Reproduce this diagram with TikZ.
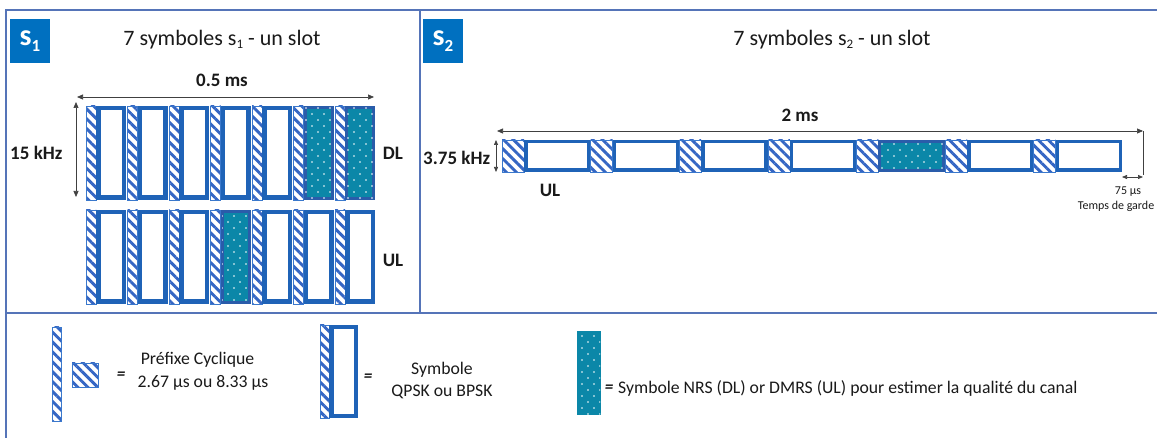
\documentclass[tikz,border=0pt]{standalone}
\usepackage{fontspec}
\setmainfont{Carlito}
\usetikzlibrary{patterns.meta,arrows.meta}
\definecolor{frameline}{HTML}{5574B8}
\definecolor{sbox}{HTML}{0070C0}
\definecolor{symblue}{HTML}{1F63B7}
\definecolor{hatchblue}{HTML}{3566C4}
\definecolor{hatchedge}{HTML}{3A78CC}
\definecolor{teal1}{HTML}{0B87A8}
\definecolor{nrsedge}{HTML}{2A5CAA}
\definecolor{txt}{HTML}{1A1A1A}
\tikzset{
  panel/.style={draw=frameline, line width=1.3pt},
  cp/.style={draw=hatchedge, line width=0.6pt, preaction={fill=white},
    pattern={Lines[angle=-45,distance=7pt,line width=2.9pt]}, pattern color=hatchblue,
    inner sep=0pt, outer sep=0pt},
  sym/.style={draw=symblue, line width=4.5pt, fill=white, inner sep=0pt, outer sep=0pt},
  symtwo/.style={draw=symblue, line width=3.5pt, fill=white, inner sep=0pt, outer sep=0pt},
  nrs/.style={draw=nrsedge, line width=3pt, fill=teal1,
    postaction={pattern={Dots[distance=12pt,radius=0.8pt]}, pattern color=white},
    postaction={pattern={Dots[distance=12pt,radius=0.8pt,xshift=6pt,yshift=6pt]}, pattern color=white},
    inner sep=0pt, outer sep=0pt},
  nrsleg/.style={draw=teal1, line width=0.5pt, fill=teal1,
    postaction={pattern={Dots[distance=12pt,radius=0.8pt]}, pattern color=white},
    postaction={pattern={Dots[distance=12pt,radius=0.8pt,xshift=6pt,yshift=6pt]}, pattern color=white},
    inner sep=0pt, outer sep=0pt},
  dim/.style={{Triangle[length=6pt,width=5pt]}-{Triangle[length=6pt,width=5pt]}, draw=black!75, line width=0.7pt},
  sbx/.style={fill=sbox, minimum width=40pt, minimum height=44pt, inner sep=0pt, text=white},
  ttl/.style={font=\fontsize{22}{25}\selectfont, text=txt, inner sep=0pt},
  bl/.style={font=\fontsize{19}{22}\selectfont\bfseries, text=txt, inner sep=0pt},
  lg/.style={font=\fontsize{17.7}{20}\selectfont, text=txt, inner sep=0pt},
  eq/.style={font=\fontsize{17}{17}\selectfont\bfseries\itshape, text=txt, inner sep=0pt},
  sm/.style={font=\fontsize{12}{14}\selectfont, text=txt, inner sep=0pt},
}
\begin{document}
\begin{tikzpicture}[x=1pt,y=-1pt]
\useasboundingbox (0,0) rectangle (1157,438);
\clip (0,0) rectangle (1157,438);
\fill[white] (0,0) rectangle (1157,438);
% panels
\draw[panel] (6,445) -- (6,10) -- (1165,10);
\draw[panel] (420,10) -- (420,313);
\draw[panel] (6,313) -- (1165,313);
% S1 panel
\node[sbx] (s1box) at (30,41) {\fontsize{30}{30}\selectfont\bfseries s\raisebox{-6pt}{\fontsize{17}{17}\selectfont 1}};
\node[ttl] (t1) at (222,40) {7 symboles s\raisebox{-3pt}{\fontsize{13}{13}\selectfont 1} - un slot};
\node[bl] (d1) at (222,80) {0.5 ms};
\node[bl, anchor=west] (k1) at (10,153) {15 kHz};
\node[bl] (dl) at (393,153) {DL};
\node[bl] (ul1) at (393,260) {UL};
\foreach \i in {0,...,6}{
  \pgfmathsetmacro{\xx}{86+41.5*\i}
  \node[cp,minimum width=10pt,minimum height=94pt] (dlcp\i) at (\xx+5,153) {};
  \node[cp,minimum width=10pt,minimum height=94pt] (ulcp\i) at (\xx+5,257) {};
  \ifnum\i>4
    \node[nrs,minimum width=27pt,minimum height=91pt] (dlsym\i) at (\xx+25,153) {};
  \else
    \node[sym,minimum width=25.5pt,minimum height=89.5pt] (dlsym\i) at (\xx+25,153) {};
  \fi
  \ifnum\i=3
    \node[nrs,minimum width=27pt,minimum height=91pt] (ulsym\i) at (\xx+25,257) {};
  \else
    \node[sym,minimum width=25.5pt,minimum height=89.5pt] (ulsym\i) at (\xx+25,257) {};
  \fi
}
\coordinate (h1l) at (77,97);
\coordinate (h1r) at (374,97);
\draw[dim] (h1l) -- (h1r);
\coordinate (v1t) at (76,102);
\coordinate (v1b) at (76,197);
\draw[dim] (v1t) -- (v1b);
% S2 panel
\node[sbx] (s2box) at (443,41) {\fontsize{30}{30}\selectfont\bfseries s\raisebox{-6pt}{\fontsize{17}{17}\selectfont 2}};
\node[ttl] (t2) at (832,40) {7 symboles s\raisebox{-3pt}{\fontsize{13}{13}\selectfont 2} - un slot};
\node[bl] (d2) at (800,115) {2 ms};
\node[bl, anchor=west] (k2) at (423,158) {3.75 kHz};
\node[bl] (ul2) at (550,190) {UL};
\foreach \i in {0,...,6}{
  \pgfmathsetmacro{\xx}{502+88.6*\i}
  \node[cp,minimum width=22pt,minimum height=32pt] (scp\i) at (\xx+11,156) {};
  \ifnum\i=4
    \node[nrs,minimum width=63.6pt,minimum height=29pt] (ssym\i) at (\xx+55.3,156) {};
  \else
    \node[symtwo,minimum width=63.1pt,minimum height=28.5pt] (ssym\i) at (\xx+55.3,156) {};
  \fi
}
\coordinate (h2l) at (497,131);
\coordinate (h2r) at (1143,131);
\draw[dim] (h2l) -- (h2r);
\coordinate (g1) at (1143,131);
\coordinate (g2) at (1143,175);
\draw[draw=black!75, line width=0.8pt] (g1) -- (g2);
\coordinate (ga) at (1122,177);
\coordinate (gb) at (1143,177);
\draw[dim, {Triangle[length=5pt,width=4pt]}-{Triangle[length=5pt,width=4pt]}] (ga) -- (gb);
\coordinate (v2t) at (496,140);
\coordinate (v2b) at (496,172);
\draw[dim, {Triangle[length=5pt,width=4pt]}-{Triangle[length=5pt,width=4pt]}] (v2t) -- (v2b);
\node[sm] (g75) at (1128,192) {75 µs};
\node[sm] (gtxt) at (1116,206) {Temps de garde};
% legend
\node[cp,minimum width=9pt,minimum height=94pt] (lcp1) at (56.5,374) {};
\node[cp,minimum width=26pt,minimum height=24pt] (lcp2) at (85,375) {};
\node[eq] (e1) at (121,376) {=};
\node[lg] (l1a) at (197.5,360) {Préfixe Cyclique};
\node[lg] (l1b) at (203,383) {2.67 µs ou 8.33 µs};
\node[cp,minimum width=9pt,minimum height=93pt] (lcp3) at (324.5,371.5) {};
\node[sym,minimum width=24.5pt,minimum height=88.5pt] (lsym) at (343.5,371.5) {};
\node[eq] (e2) at (368,378) {=};
\node[lg] (l2a) at (442,370) {Symbole};
\node[lg] (l2b) at (442,392) {QPSK ou BPSK};
\node[nrsleg,minimum width=23pt,minimum height=83pt] (lnrs) at (588.5,372.5) {};
\node[eq] (e3) at (609,389) {=};
\node[lg, anchor=west] (l3) at (618,388) {Symbole NRS (DL) or DMRS (UL) pour estimer la qualité du canal};
\end{tikzpicture}
\end{document}
